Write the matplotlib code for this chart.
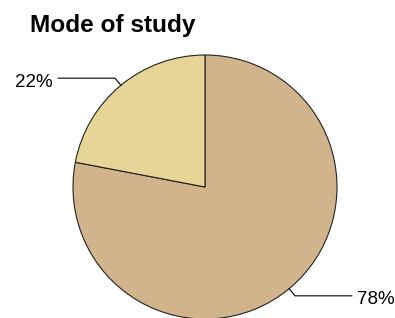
import numpy as np
import matplotlib
matplotlib.use("Agg")
import matplotlib.pyplot as plt

# Daten
categories = ["Full-time", "Part-time"]
shares = [78, 22]
labels = ["78%", "22%"]
colors = ["#D2B48C", "#E6D597"]

plt.rcParams["font.family"] = ["Liberation Sans", "DejaVu Sans"]

W, H = 395, 318
fig = plt.figure(figsize=(W / 100, H / 100), dpi=100)

# Mittelpunkt und Radius in Pixeln
cx, cy, r = 205, 187, 132
ax = fig.add_axes([0, 0, 1, 1])

wedges, _ = ax.pie(shares, colors=colors, startangle=90, counterclock=False,
                   radius=1, wedgeprops=dict(edgecolor="#222222", linewidth=0.8))
ax.set_xlim(-cx / r, (W - cx) / r)
ax.set_ylim(-(H - cy) / r, cy / r)
ax.set_aspect("auto")
ax.axis("off")

# Beschriftungen mit Hilfslinien
for w, lab in zip(wedges, labels):
    ang = np.deg2rad((w.theta1 + w.theta2) / 2)
    x0, y0 = np.cos(ang), np.sin(ang)
    x1, y1 = 1.07 * x0, 1.07 * y0
    side = np.sign(x0)
    x2 = x1 + side * 0.43
    ax.plot([x0, x1, x2], [y0, y1, y1], color="black", linewidth=0.8)
    ax.text(x2 + side * 0.04, y1 - 0.03, lab, fontsize=13.5,
            ha="left" if side > 0 else "right", va="center")

fig.text(30 / W, 1 - 32 / H, "Mode of study", fontsize=17.6, fontweight="bold",
         ha="left", va="baseline")

fig.savefig("out.png", dpi=100)
